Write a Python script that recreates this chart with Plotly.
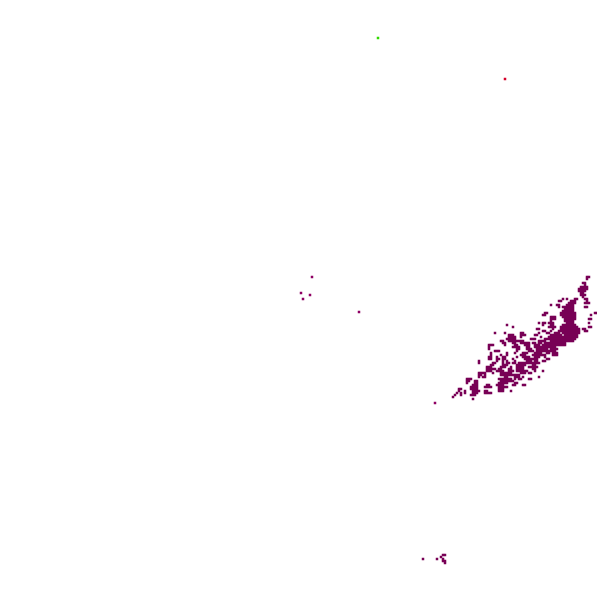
import plotly.graph_objects as go

# cluster cells, one string per grid row starting at row 135, column runs relative to col 220
# one grid cell is 2 px on the page
cluster_first_row = 135
cluster_col0 = 220
cluster_runs = [
    "", "", "", "73-74", "73", "", "71-72", "72", "70-73", "69-73", "69-72", "70-71", "70-72", "71",
    "61 63 67-68 72-73", "59-60 65-67 73", "64-67 72-74", "55 58-59 63-66", "59 61-66 72-73", "62-66",
    "61-66", "52-53 60-67 77-78", "51-52 60-67 75", "55-57 61-67", "55-57 62-67 74-75", "55 62-66",
    "49 51-52 54-56 63-66 74", "33 51 55-56 61-67", "36 54-57 60-68 74-75", "48-49 56 60-69 71-72",
    "51-52 55 59-69 72-73", "27 32 40-41 49 53-54 57-59 61-69", "34-36 40-42 47-48 55-60 62-68",
    "34-37 40 50 54-68", "33-37 45-47 52-67", "30-31 34-41 49-52 55-66", "31-32 36-37 40-44 46-47 49-50 52-62",
    "24-26 32 37-38 42-44 47-49 51-62", "24 36-39 43-44 47-57", "24 38-39 43-45 48-53 55-58",
    "27-29 38 44-46 48-55 56-57", "25 33 37 41-43 47-50 53-54 56-58", "25 30 33 40-42 46-52 56-58",
    "24-25 28 31-32 38 41-44 47-49 52", "24-25 28-29 31-32 36 42-48 53-54", "19 28 31 33 37 43-45 47-48 51-52",
    "19 26-27 31 33-34 36-37 39-49", "25-26 31-33 38-42 46-47", "23-25 30-32 35 38-41 44-48",
    "23-27 29-30 34-35 38-41 46-47", "23-25 28-31 34-36 38-43 47 51", "19-22 26 30-35 40-42 44-45",
    "19-20 22 30-39", "19 21-22 32-33 37-39 41 49", "13-15 29-35 37 39-40 44-45", "13-14 17-18 30-36",
    "13 17-18 29-33 37-38", "16-18 23-24 28-31 36-37 41-42", "15-18 22-25 29-33", "9-10 15-18 29-31",
    "9 12 16-19 22-23 29-31 35", "8 10 12 16-18 22-25", "7 10 15-17", "6", "16",
]

# small groups and single cells away from the cluster
bottom_cols = [211, 218, 220, 221, 222, 221, 221, 222, 222]
bottom_rows = [279, 279, 278, 277, 277, 279, 280, 280, 281]
single_cols = [155.5, 150, 154.5, 151, 179, 217]
single_rows = [138, 146, 147, 149, 155.5, 201]
green_cols = [188.5]
green_rows = [18.5]
red_cols = [252]
red_rows = [39]

color_green = "#33d900"
color_red = "#d4002a"
color_mid = "#8f0063"
color_dark = "#780055"

cluster_cols = []
cluster_rows = []
for i, runs in enumerate(cluster_runs):
    for run in runs.split():
        a, _, b = run.partition("-")
        for c in range(int(a), int(b or a) + 1):
            cluster_cols.append(cluster_col0 + c)
            cluster_rows.append(cluster_first_row + i)


def cells(cols, rows, color):
    return go.Scatter(x=[c + 0.5 for c in cols], y=[r + 0.5 for r in rows],
                      mode="markers",
                      marker=dict(symbol="square", size=2.5, color=color, line_width=0),
                      hoverinfo="skip",
                      )


data = [
    cells(cluster_cols, cluster_rows, color_dark),
    cells(bottom_cols, bottom_rows, color_dark),
    cells(single_cols, single_rows, color_mid),
    cells(green_cols, green_rows, color_green),
    cells(red_cols, red_rows, color_red),
]

layout = go.Layout(
    width=597,
    height=589,
    margin=dict(l=0, r=0, t=0, b=0),
    paper_bgcolor="white",
    plot_bgcolor="white",
    showlegend=False,
    xaxis=dict(visible=False, range=[0, 298.5]),
    yaxis=dict(visible=False, range=[294.5, 0]),
)
fig = go.Figure(data=data, layout=layout)
fig.write_html("out.html", config=dict(displayModeBar=False),
               post_script="document.body.style.margin='0';document.body.style.overflow='hidden';")
